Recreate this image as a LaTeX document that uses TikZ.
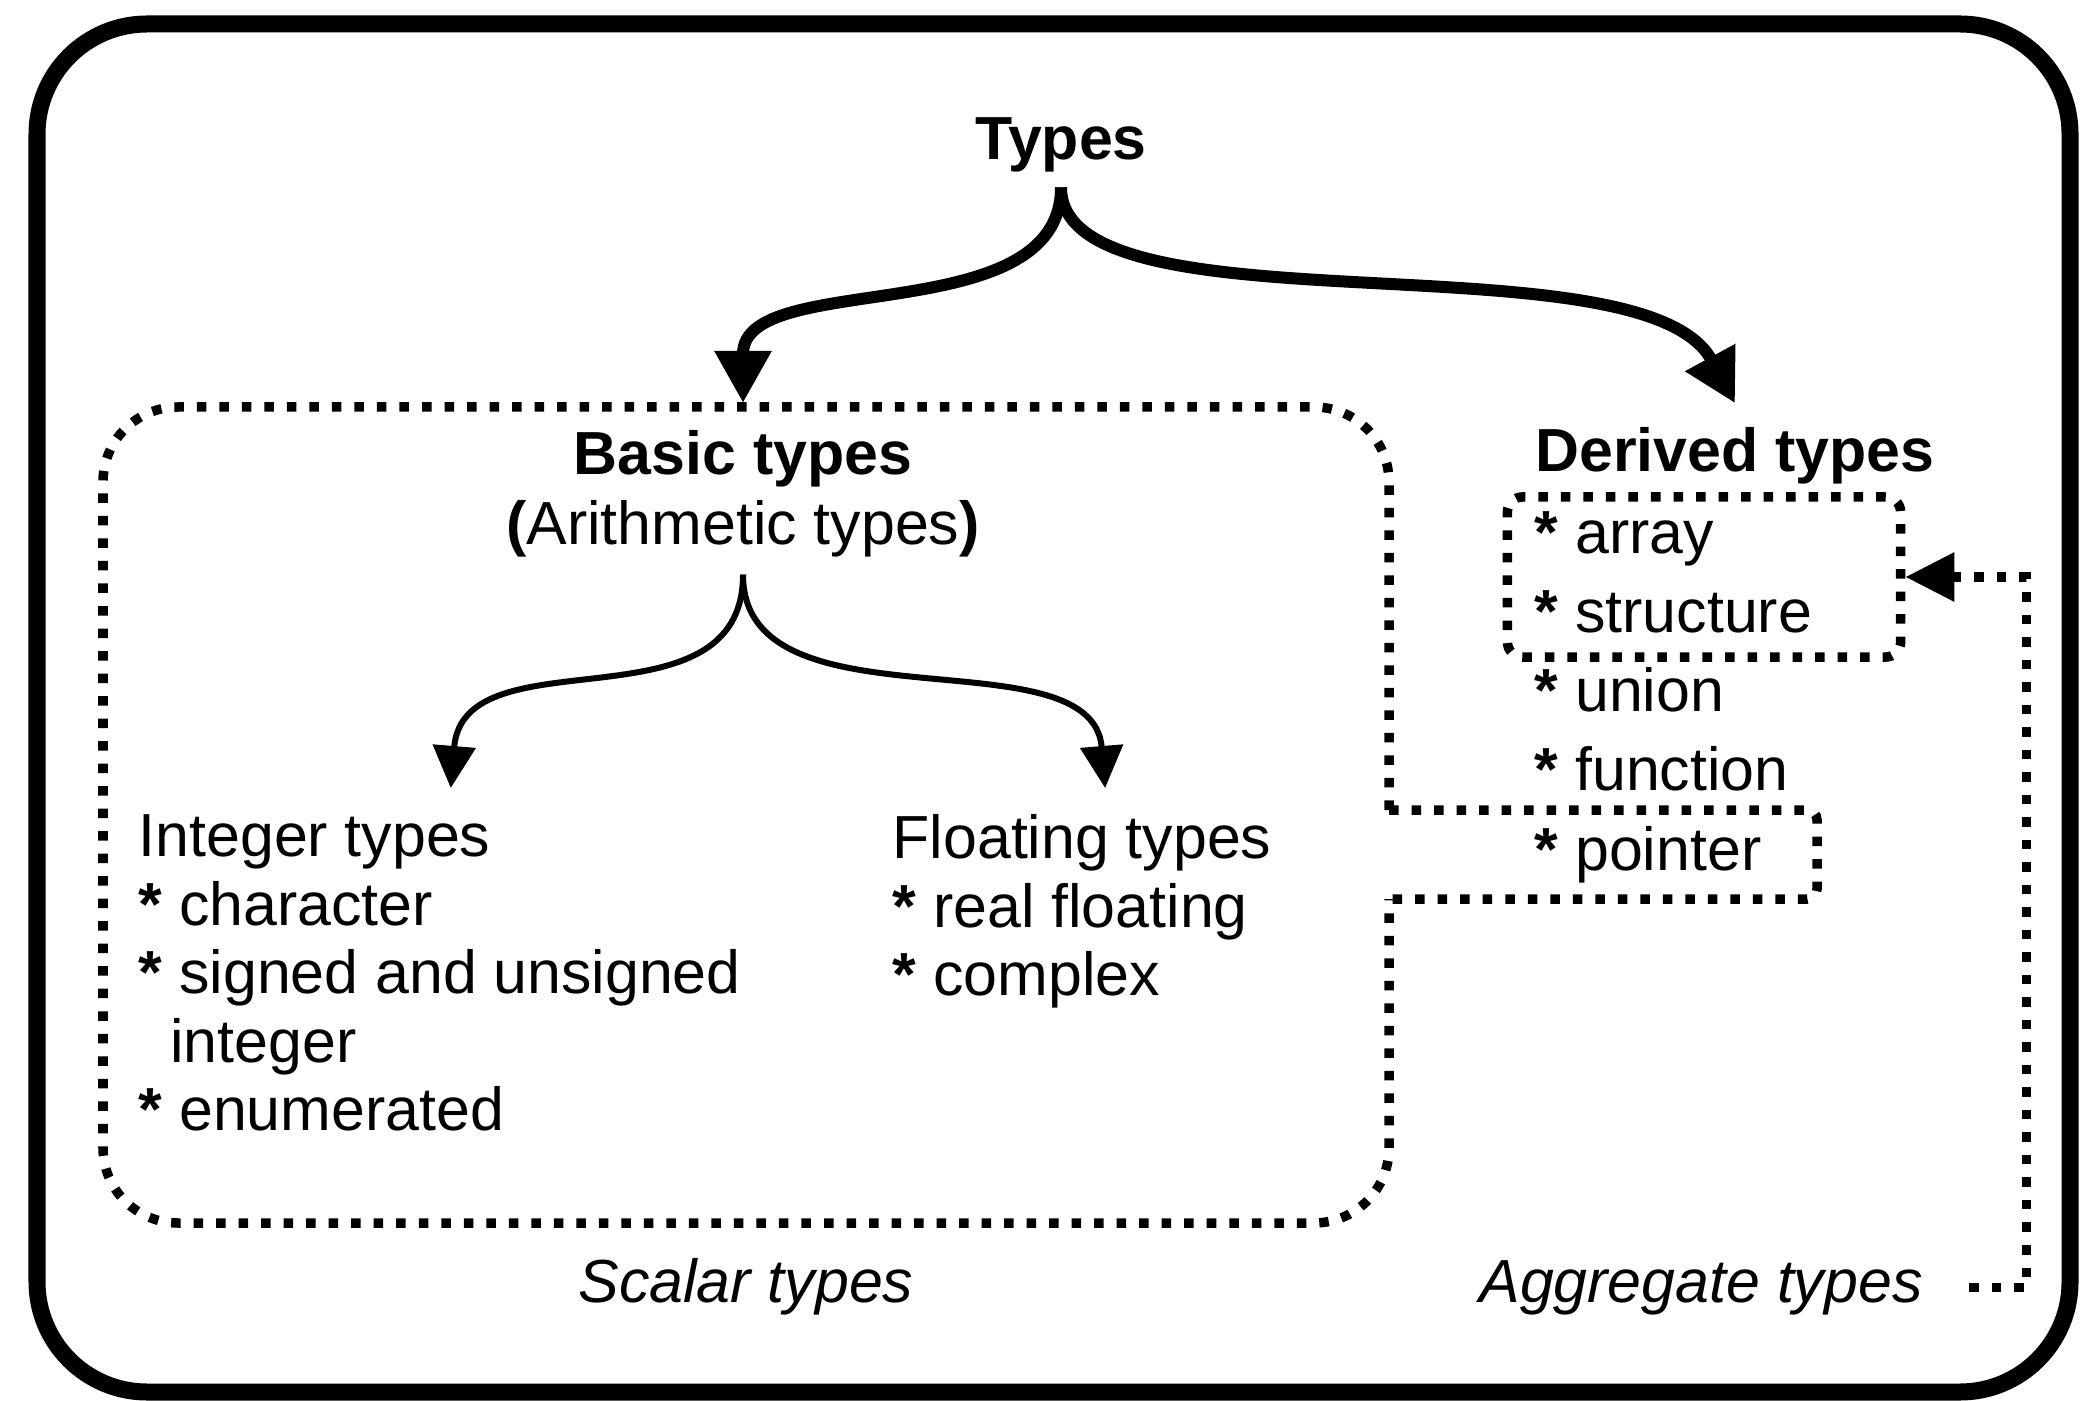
\documentclass[tikz,border=0pt]{standalone}
\usepackage{fontspec}
\setmainfont{Liberation Sans}
\usetikzlibrary{arrows.meta}

\tikzset{
  txt/.style={inner sep=0pt, font=\fontsize{17.3}{19.5}\selectfont},
  head/.style={inner sep=0pt, font=\fontsize{17.3}{19.9}\selectfont\bfseries},
  note/.style={inner sep=0pt, font=\fontsize{17.3}{19.5}\selectfont\itshape},
  dotline/.style={line width=0.095cm, dash pattern=on 0.095cm off 0.13cm},
  bigarrow/.style={line width=0.12cm, -{Triangle[length=0.52cm,width=0.54cm]}},
  smallarrow/.style={line width=0.06cm, -{Triangle[length=0.42cm,width=0.42cm]}},
}

\begin{document}
\begin{tikzpicture}[x=0.01cm, y=-0.01cm]
  \useasboundingbox (0,0) rectangle (2080,1401);
  \draw[line width=0.17cm, rounded corners=1.1cm] (37,24) rectangle (2070,1392);

  \node (types)   [head, anchor=base] at (1061,160) {Types};
  \node (basic)   [head, anchor=north, align=center] at (743,430)
                  {Basic types\\(\textmd{Arithmetic types})};
  \node (int)     [txt, anchor=north west, align=left] at (138,814)
                  {Integer types\\\textbf{*} character\\\textbf{*} signed and unsigned\\\hspace*{9pt}integer\\\textbf{*} enumerated};
  \node (float)   [txt, anchor=north west, align=left] at (892,814)
                  {Floating types\\\textbf{*} real floating\\\textbf{*} complex};

  \node (derived) [head, anchor=base] at (1735,472) {Derived types};
  \node (aggbox)  [draw, dotline, rounded corners=0.15cm, minimum width=3.93cm, minimum height=1.6cm]
                  at (1704,577) {};
  \node (dlist)   [txt, anchor=north west, align=left, font=\fontsize{17.3}{22.5}\selectfont]
                  at (1534,511)
                  {\textbf{*} array\\\textbf{*} structure\\\textbf{*} union\\\textbf{*} function\\\textbf{*} pointer};

  \node (scalar)  [note, anchor=base] at (746,1302) {Scalar types};
  \node (agg)     [note, anchor=base] at (1701,1302) {Aggregate types};

  \draw[dotline, rounded corners=0.75cm] (1389,810) -- (1389,407) -- (103,407) -- (103,1223)
        -- (1389,1223) -- (1389,899);
  \draw[dotline, rounded corners=0.1cm] (1389,810) -- (1817,810) -- (1817,899) -- (1389,899);

  \draw[bigarrow] ([yshift=-0.14cm]types.south) .. controls +(0,145) and +(0,-135)
        .. ([yshift=0.27cm]basic.north);
  \draw[bigarrow] ([yshift=-0.14cm]types.south) .. controls +(0,151) and +(-93,-171)
        .. ([yshift=0.24cm]derived.north);
  \draw[smallarrow] ([yshift=-0.165cm]basic.south) .. controls +(0,160) and +(13,-157)
        .. ([xshift=0.11cm,yshift=0.26cm]int.north);
  \draw[smallarrow] ([yshift=-0.165cm]basic.south) .. controls +(0,160) and +(-13,-157)
        .. ([xshift=0.23cm,yshift=0.26cm]float.north);

  \draw[dotline, -{Triangle[length=0.49cm,width=0.47cm]}] ([xshift=0.46cm]agg.east)
        -| ([xshift=1.21cm]aggbox.east) -- (aggbox.east);
\end{tikzpicture}
\end{document}
